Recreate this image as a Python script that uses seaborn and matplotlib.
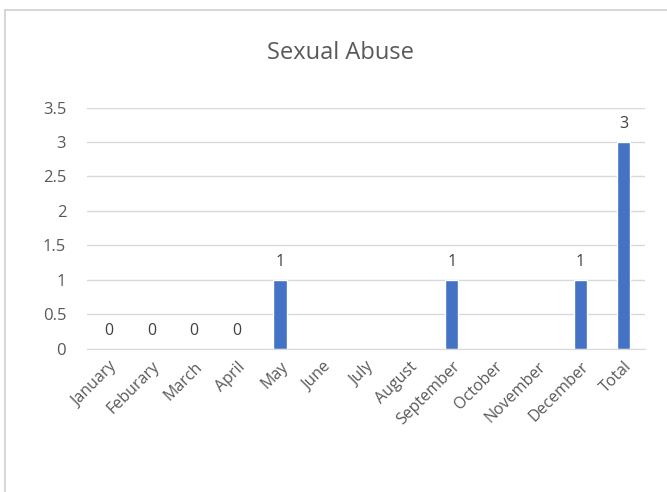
import matplotlib
matplotlib.use("Agg")
import matplotlib.pyplot as plt
import numpy as np
import pandas as pd
import seaborn as sns

months = ["January", "Feburary", "March", "April", "May", "June", "July",
          "August", "September", "October", "November", "December", "Total"]
cases = [0, 0, 0, 0, 1, np.nan, np.nan, np.nan, 1, np.nan, np.nan, 1, 3]
yticks = [0, 0.5, 1, 1.5, 2, 2.5, 3, 3.5]
ytick_labels = ["0", "0.5", "1", "1.5", "2", "2.5", "3", "3.5"]

df = pd.DataFrame({"month": months, "cases": cases})

sns.set_style("white")
plt.rcParams["font.family"] = ["Open Sans", "DejaVu Sans"]

fig = plt.figure(figsize=(6.67, 4.92), dpi=100)
ax = fig.add_axes([0.1304, 0.2907, 0.8366, 0.4908])

sns.barplot(data=df, x="month", y="cases", order=months, color="#4472C4",
            saturation=1, width=0.31, ax=ax)

# data labels
for i, v in enumerate(cases):
    if not np.isnan(v):
        ax.annotate(f"{v:g}", (i, v), xytext=(0, 7), textcoords="offset points",
                    ha="center", va="bottom", fontsize=11.5, color="#404040")

ax.set_ylim(0, 3.5)
ax.set_yticks(yticks)
ax.set_yticklabels(ytick_labels)
ax.yaxis.grid(True, color="#d9d9d9", linewidth=1)
ax.set_axisbelow(True)
for s in ["top", "right", "left"]:
    ax.spines[s].set_visible(False)
ax.spines["bottom"].set_color("#d9d9d9")
ax.tick_params(axis="both", length=0, labelcolor="#595959")
ax.tick_params(axis="y", pad=15, labelsize=12)
ax.set_xticks(range(len(months)))
ax.set_xticklabels(months, rotation=45, ha="right", rotation_mode="anchor")
ax.tick_params(axis="x", pad=7, labelsize=11.5)
ax.set_xlabel("")
ax.set_ylabel("")

fig.text(0.51, 0.893, "Sexual Abuse", ha="center", va="center",
         fontsize=17, color="#595959")

# chart frame
fig.add_artist(plt.Line2D([0.0075, 0.0075], [0.0, 0.98], color="#d0d0d0", lw=1.2))
fig.add_artist(plt.Line2D([0.0075, 1.0], [0.98, 0.98], color="#d0d0d0", lw=1.2))

fig.savefig("out.png", dpi=100)
